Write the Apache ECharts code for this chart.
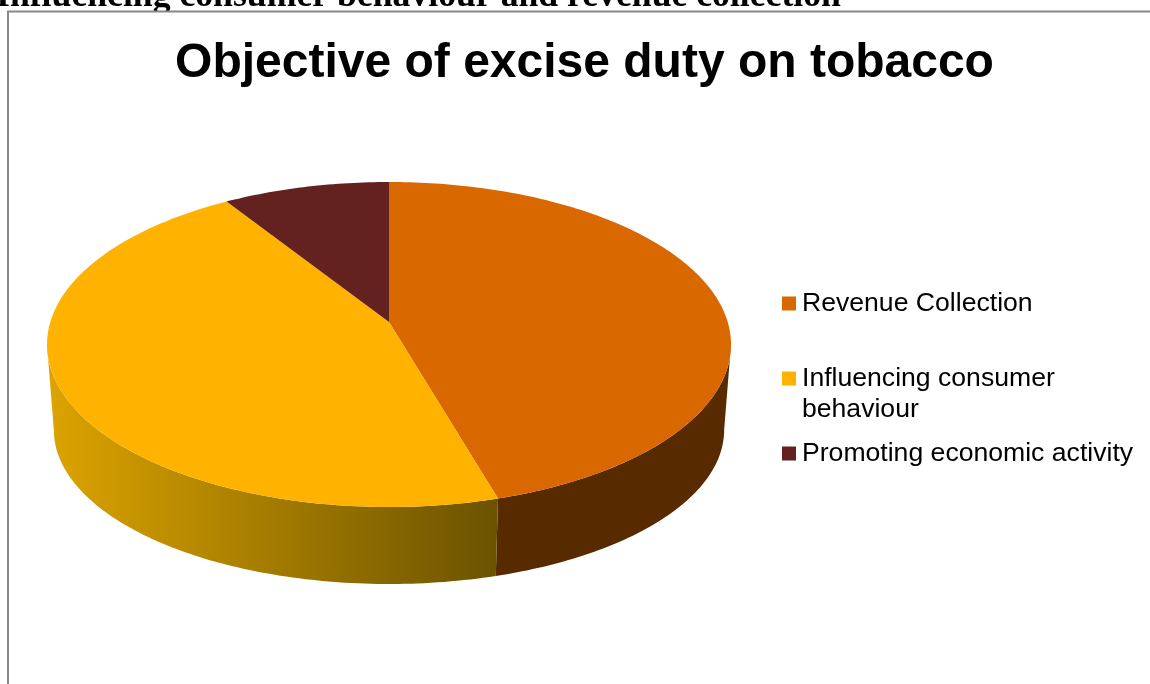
<!DOCTYPE html>
<html>
<head>
<meta charset="utf-8">
<style>html,body{margin:0;padding:0;background:#fff;overflow:hidden}#chart{width:1150px;height:684px}</style>
<script src="https://cdn.jsdelivr.net/npm/echarts@6/dist/echarts.min.js"></script>
</head>
<body>
<div id="chart"></div>
<script>
// Survey shares for each stated objective of the excise duty (percent).
const categories = ['Revenue Collection', 'Influencing consumer behaviour', 'Promoting economic activity'];
const shares = [45.5, 45.5, 9];
const legendLines = ['Revenue Collection', '\nInfluencing consumer\nbehaviour', 'Promoting economic activity'];
const topColors = ['#D96800', '#FFB300', '#632120'];
const chartTitle = 'Objective of excise duty on tobacco';
const headingAbove = 'Influencing consumer behaviour and revenue collection';

// Perspective of the tilted disc: apex of the slices, half extents and foreshortening.
const disc = { cx: 389, apexY: 322, a: 338.7, b: 159.4, k: -0.1385 };
// The underside is the same disc, further away and lower down.
const base = { scaleX: 0.98, scaleY: 0.948, apexY: 408.6 };

const total = shares.reduce((s, v) => s + v, 0);

// Fractions of a turn where the rim is widest: only the arc between them faces the viewer.
const rimRight = Math.acos(disc.k) / (2 * Math.PI);
const rimLeft = 1 - rimRight;

function project(frac, sx, sy, apexY) {
  const t = frac * 2 * Math.PI;
  const u = Math.sin(t), v = -Math.cos(t), w = 1 + disc.k * v;
  return [disc.cx + sx * disc.a * u / w, apexY + sy * disc.b * v / w];
}
function arc(from, to, sx, sy, apexY) {
  const n = Math.max(2, Math.ceil((to - from) * 360));
  const pts = [];
  for (let i = 0; i <= n; i++) pts.push(project(from + (to - from) * i / n, sx, sy, apexY));
  return pts;
}
function sideFill(index) {
  if (index === 0) return '#582A00';
  return new echarts.graphic.LinearGradient(47, 0, 499, 0, [
    { offset: 0, color: '#DDA400' },
    { offset: 1, color: '#6A5200' }
  ], true);
}
function sliceRenderer(index) {
  const start = shares.slice(0, index).reduce((s, v) => s + v, 0) / total;
  return function (params, api) {
    const end = start + api.value(0) / total;
    const topArc = arc(start, end, 1, 1, disc.apexY);
    const children = [];
    const from = Math.max(start, rimRight), to = Math.min(end, rimLeft);
    if (to > from) {
      const rimTop = arc(from, to, 1, 1, disc.apexY);
      const rimLow = arc(from, to, base.scaleX, base.scaleY, base.apexY).reverse();
      children.push({ type: 'polygon', z2: 1, shape: { points: rimTop.concat(rimLow) }, style: { fill: sideFill(index) } });
    }
    children.push({ type: 'polygon', z2: 10, shape: { points: [[disc.cx, disc.apexY]].concat(topArc) }, style: { fill: topColors[index] } });
    return { type: 'group', children: children };
  };
}

const chart = echarts.init(document.getElementById('chart'), null, { renderer: 'canvas' });
chart.setOption({
  animation: false,
  backgroundColor: '#ffffff',
  title: {
    text: chartTitle,
    left: 579.5,
    top: 32,
    textAlign: 'center',
    textStyle: { fontFamily: 'Liberation Sans', fontWeight: 'bold', fontSize: 48, color: '#000', lineHeight: 54 }
  },
  legend: {
    orient: 'vertical',
    left: 782,
    top: 288,
    icon: 'rect',
    itemWidth: 14,
    itemHeight: 14,
    itemGap: 13,
    selectedMode: false,
    padding: 0,
    data: categories,
    formatter: name => legendLines[categories.indexOf(name)],
    textStyle: { fontFamily: 'Liberation Sans', fontSize: 26.6, lineHeight: 31, color: '#000', padding: [0, 0, 0, 1] }
  },
  graphic: [
    {
      type: 'text', z: -2, x: -4, y: -21,
      style: { text: headingAbove, fontFamily: 'Liberation Serif', fontWeight: 'bold', fontSize: 35.7, fill: '#000' }
    },
    {
      type: 'rect', z: -1,
      shape: { x: 8, y: 11.5, width: 1200, height: 720 },
      style: { fill: '#fff', stroke: '#888888', lineWidth: 2 }
    }
  ],
  series: categories.map((name, i) => ({
    type: 'custom',
    name: name,
    coordinateSystem: 'none',
    silent: true,
    itemStyle: { color: topColors[i] },
    renderItem: sliceRenderer(i),
    data: [[shares[i]]]
  }))
});
</script>
</body>
</html>
